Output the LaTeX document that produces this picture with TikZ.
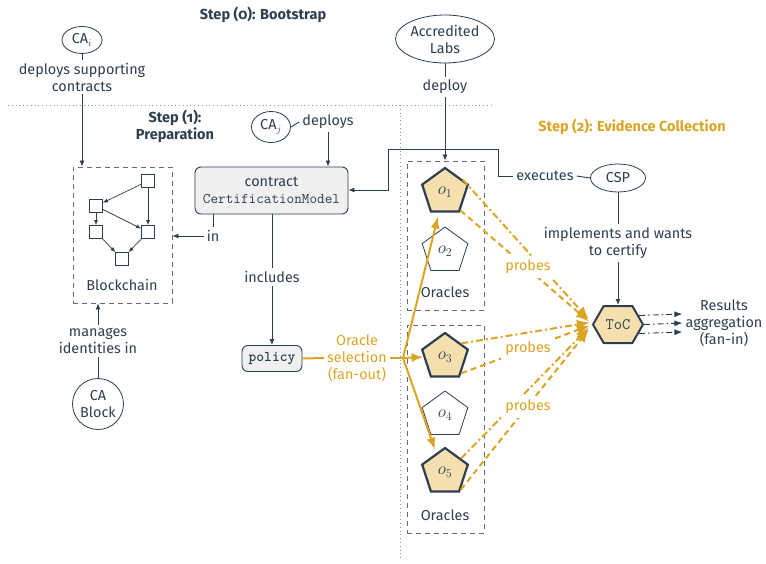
\documentclass[tikz,border=0pt]{standalone}
\usepackage{fontspec}
\setmainfont{Fira Sans}[Numbers=OldStyle]
\usetikzlibrary{shapes.geometric,shapes.symbols,arrows.meta,calc}
\definecolor{ink}{HTML}{2C3E50}
\definecolor{gold}{HTML}{DCA425}
\definecolor{wheatfill}{HTML}{F5DFAE}
\definecolor{boxgray}{HTML}{F0F0F0}
\definecolor{dashgray}{HTML}{5D6D7E}
\definecolor{dotgray}{HTML}{8A96A3}

\tikzset{
  every node/.style={text=ink, align=center},
  lbl/.style={inner sep=3pt},
  ell/.style={ellipse, draw=ink, line width=0.8pt, inner sep=0pt},
  dbox/.style={draw=dashgray, dash pattern=on 5pt off 4pt, line width=0.9pt},
  link/.style={draw=ink, line width=0.9pt},
  arr/.style={link, -{Latex[length=6pt,width=5pt]}},
  sq/.style={draw=ink, line width=0.8pt, fill=white, minimum size=13pt, inner sep=0pt},
  sqarr/.style={draw=ink, line width=0.7pt, -{Latex[length=5pt,width=4pt]}},
  orafull/.style={regular polygon, regular polygon sides=5, minimum size=48pt,
    inner sep=0pt, draw=ink, line width=2.2pt, fill=wheatfill, font=\fontsize{17}{19}\selectfont},
  oraempty/.style={regular polygon, regular polygon sides=5, minimum size=48pt,
    inner sep=0pt, draw=ink, line width=0.8pt, fill=white, font=\fontsize{17}{19}\selectfont},
  goldline/.style={draw=gold, line width=2pt},
  goldarr/.style={goldline, -{Latex[length=12pt,width=9pt]}},
  probedd/.style={draw=gold, line width=2pt, dash pattern=on 7pt off 3pt on 2pt off 3pt,
    -{Latex[length=13pt,width=10pt]}},
  probeds/.style={draw=gold, line width=2pt, dash pattern=on 6pt off 4pt,
    -{Latex[length=13pt,width=10pt]}},
  resarr/.style={draw=ink, line width=0.9pt, dash pattern=on 6pt off 3pt on 1.5pt off 3pt,
    -{Latex[length=8pt,width=6pt]}},
  gtext/.style={text=gold},
  divider/.style={draw=dotgray, line width=0.8pt, dash pattern=on 0.8pt off 3pt},
  heading/.style={font=\fontsize{14.5}{17}\selectfont\bfseries},
  mono/.style={font=\ttfamily\fontsize{14.8}{17}\selectfont},
  monobold/.style={font=\ttfamily\bfseries\fontsize{14.8}{17}\selectfont},
}

\begin{document}
\begin{tikzpicture}[x=1pt,y=-1pt, font=\fontsize{14.4}{17}\selectfont]
\useasboundingbox (0,0) rectangle (766,564);

% step dividers
\draw[divider] (8,105) -- (493,105);
\draw[divider] (400,105) -- (400,560);

% step headings
\node[heading] (h0) at (263,15) {Step (0): Bootstrap};
\node[heading] (h1) at (175,126) {Step (1):\\Preparation};
\node[heading, gtext] (h2) at (632,127) {Step (2): Evidence Collection};

% ---- bootstrap: CA_i and the blockchain
\node[ell, minimum width=40pt, minimum height=27pt] (cai) at (82,40) {CA$_i$};
\node[lbl] (deptxt) at (82,77) {deploys supporting\\contracts};
\node[dbox, minimum width=99pt, minimum height=136pt] (bc) at (122.5,235) {};
\node[lbl] (bclabel) at (122,285) {Blockchain};

\node[sq] (s1) at (148,181) {};
\node[sq] (s2) at (96,206) {};
\node[sq] (s3) at (96,232) {};
\node[sq] (s4) at (148,232) {};
\node[sq] (s5) at (122,259) {};
\draw[sqarr] (s1) -- (s2);
\draw[sqarr] (s1) -- (s4);
\draw[sqarr] (s2) -- (s3);
\draw[sqarr] (s2) -- (s4);
\draw[sqarr] (s3) -- (s5);
\draw[sqarr] (s4) -- (s5);

\draw[link] (cai.south) -- (deptxt.north);
\draw[arr] (deptxt.south) -- (deptxt.south |- bc.north);

% CA block
\node[lbl] (mgr) at (98,341) {manages\\identities in};
\node[circle, draw=ink, line width=0.8pt, minimum size=51pt, inner sep=0pt] (cablk) at (98,404) {CA\\Block};
\draw[arr] (mgr.north) -- (mgr.north |- bc.south);
\draw[link] (cablk.north) -- (mgr.south);

% ---- preparation: certification model
\node[ell, minimum width=39pt, minimum height=31pt] (caj) at (271,127) {CA$_j$};
\node[lbl] (deploys) at (328,122) {deploys};
\node[draw=ink, line width=0.9pt, fill=boxgray, rounded corners=6pt,
      minimum width=153pt, minimum height=47pt] (contract) at (271.5,190.5)
      {contract\\[0pt]\ttfamily\fontsize{14.8}{17}\selectfont CertificationModel};
\draw[link] (caj.east) -- (deploys.west);
\draw[arr] (deploys.south) -- (deploys.south |- contract.north);

\node[lbl] (in) at (213,236) {in};
\draw[link] (in.north |- contract.south) -- (in.north);
\draw[arr] (in.west) -- (in.west -| bc.east);

\node[lbl] (incl) at (272,277) {includes};
\node[draw=ink, line width=0.9pt, fill=boxgray, rounded corners=6pt,
      minimum width=60pt, minimum height=26pt, monobold] (policy) at (272,358.5) {policy};
\draw[link] (contract.south -| incl) -- (incl.north);
\draw[arr] (incl.south) -- (policy.north);

% ---- oracles
\node[ell, minimum width=99pt, minimum height=48pt] (labs) at (445,39) {Accredited\\Labs};
\node[lbl] (deploy) at (445,87) {deploy};
\node[dbox, minimum width=77pt, minimum height=149pt] (ob1) at (445.5,235.5) {};
\node[dbox, minimum width=77pt, minimum height=208pt] (ob2) at (445.5,429) {};
\draw[link] (labs.south) -- (deploy.north);
\draw[arr] (deploy.south) -- (deploy.south |- ob1.north);

\node[orafull] (o1) at (445,192) {$o_1$};
\node[oraempty] (o2) at (445,251) {$o_2$};
\node[lbl] (or1) at (445,292) {Oracles};
\node[orafull] (o3) at (445,357) {$o_3$};
\node[oraempty] (o4) at (445,415) {$o_4$};
\node[orafull] (o5) at (445,472) {$o_5$};
\node[lbl] (or2) at (445,515) {Oracles};

% ---- CSP and target of certification
\node[ell, minimum width=55pt, minimum height=28pt] (csp) at (618,178) {CSP};
\node[lbl] (exec) at (545,176) {executes};
\coordinate (r2) at (498,149);
\coordinate (r3) at (388,149);
\coordinate (r4) at (388,190);
\draw[link] (csp.west) -- (exec.east);
\draw[arr] (exec.west) -- (exec.west -| r2) -- (r2) -- (r3) -- (r4) -- (r4 -| contract.east);

\node[lbl] (impl) at (618,243) {implements and wants\\to certify};
\node[signal, signal to=west and east, signal pointer angle=120, fill=wheatfill,
      draw=ink, line width=2pt, minimum width=50pt, minimum height=37pt, inner sep=0pt,
      font=\ttfamily\fontsize{16}{18}\selectfont] (toc) at (618,324.5) {ToC};
\draw[link] (csp.south) -- (impl.north);
\draw[arr] (impl.south) -- (toc.north);

\node[lbl] (res) at (724,323) {Results\\aggregation\\(fan-in)};
\draw[resarr] ($(toc.east)+(-5,-9)$) -- ($(res.west)+(0,-9)$);
\draw[resarr] (toc.east) -- ($(res.west)+(0,0)$);
\draw[resarr] ($(toc.east)+(-5,9)$) -- ($(res.west)+(0,9)$);

% ---- oracle selection fan-out
\node[lbl, gtext] (sel) at (357,358) {Oracle\\selection\\(fan-out)};
\coordinate (j) at (403,358);
\draw[goldline] (policy.east) -- (sel.west);
\draw[goldline] (sel.east) -- (j);
\draw[goldarr] (j) -- (o3.west);
\draw[goldarr] (j) -- ([xshift=-7pt,yshift=-4pt]o1.south);
\draw[goldarr] (j) -- ([xshift=-10pt,yshift=-3pt]o5.north);

% ---- probes towards the target of certification
\draw[probedd] (o1.35) -- ([shift={(-3pt,5pt)}]toc.west);
\draw[probeds] (o1.-50) -- ([shift={(-3pt,3pt)}]toc.west);
\draw[probedd] (o3.40) -- ([shift={(-2pt,2pt)}]toc.west);
\draw[probeds] (o3.-45) -- ([shift={(-2pt,-1pt)}]toc.west);
\draw[probedd] (o5.40) -- ([shift={(-3pt,-3pt)}]toc.west);
\draw[probeds] (o5.-48) -- ([shift={(-3pt,-5pt)}]toc.west);

\node[gtext, fill=white, inner sep=4pt] (p1) at (528,267) {probes};
\node[gtext, fill=white, inner sep=4pt] (p2) at (528,349) {probes};
\node[gtext, fill=white, inner sep=4pt] (p3) at (528,407) {probes};

\end{tikzpicture}
\end{document}
